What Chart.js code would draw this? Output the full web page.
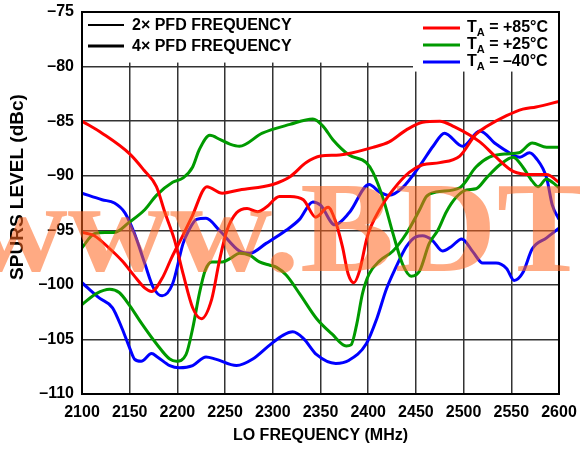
<!DOCTYPE html>
<html>
<head>
<meta charset="utf-8">
<script src="https://cdn.jsdelivr.net/npm/chart.js@4.4.1/dist/chart.umd.min.js"></script>
<style>
  html, body { margin: 0; padding: 0; background: #fff; }
  #wrap { width: 580px; height: 449px; }
</style>
</head>
<body>
<div id="wrap"><canvas id="chart" width="580" height="449"></canvas></div>
<script>
// --- Data (LO frequency in MHz, spur level in dBc) ---
const freqRedA = [2100,2121,2150,2165,2178,2187,2197,2206,2216,2225,2236,2244,2252,2262,2273,2284,2293,2307,2318,2332,2345,2358,2365,2373,2379,2385,2391,2399,2412,2426,2443,2457,2475,2496,2513,2524,2545,2562,2576,2600];
const spurRedA = [-85.0,-86.1,-88.0,-89.5,-91.0,-93.4,-95.9,-99.0,-102.1,-103.1,-101.3,-97.8,-95.0,-93.4,-93.0,-93.3,-92.9,-91.9,-91.9,-92.2,-93.8,-92.9,-94.0,-96.5,-99.0,-99.8,-98.7,-95.6,-93.1,-91.3,-89.7,-89.0,-88.8,-88.2,-86.2,-85.5,-84.5,-83.9,-83.7,-83.2];

const freqRedB = [2100,2113,2128,2142,2155,2166,2173,2184,2194,2205,2215,2231,2247,2265,2300,2318,2335,2350,2370,2405,2422,2440,2457,2475,2490,2517,2534,2552,2572,2587,2600];
const spurRedB = [-95.2,-95.5,-96.6,-97.8,-99.2,-100.3,-100.6,-99.4,-97.5,-95.6,-93.8,-91.0,-91.6,-91.3,-90.8,-90.1,-88.8,-88.2,-88.1,-87.4,-86.9,-85.8,-85.1,-85.0,-85.5,-86.9,-88.3,-89.6,-89.9,-89.9,-90.6];

const freqGreenA = [2100,2113,2124,2134,2149,2166,2178,2195,2206,2216,2223,2234,2245,2255,2265,2289,2318,2342,2353,2363,2380,2398,2405,2416,2426,2436,2445,2454,2464,2473,2482,2492,2503,2513,2524,2538,2552,2562,2572,2578,2587,2593,2600];
const spurGreenA = [-96.6,-95.3,-95.2,-95.2,-94.3,-93.1,-91.8,-90.6,-90.2,-89.2,-87.6,-86.3,-86.7,-87.1,-87.3,-86.1,-85.3,-84.8,-85.5,-86.7,-88.1,-88.8,-89.7,-92.2,-95.3,-98.1,-99.2,-98.7,-96.2,-95.0,-93.3,-92.0,-91.3,-91.2,-90.2,-89.0,-88.3,-89.2,-90.5,-91.0,-90.3,-90.6,-91.1];

const freqGreenB = [2100,2115,2129,2139,2150,2163,2178,2192,2199,2209,2216,2223,2229,2236,2247,2257,2265,2276,2286,2297,2304,2314,2328,2346,2362,2377,2382,2388,2394,2401,2412,2426,2440,2454,2461,2471,2496,2513,2527,2545,2558,2572,2587,2600];
const spurGreenB = [-101.8,-100.8,-100.4,-100.7,-101.9,-103.6,-105.4,-106.8,-107.0,-106.4,-104.0,-100.8,-98.7,-97.9,-97.9,-97.5,-97.1,-97.3,-97.9,-98.2,-98.4,-99.1,-100.8,-103.1,-104.5,-105.6,-105.5,-103.6,-100.8,-99.0,-97.8,-96.9,-95.3,-93.1,-91.9,-91.5,-91.1,-89.2,-88.3,-88.0,-87.9,-87.0,-87.4,-87.4];

const freqBlueA = [2100,2121,2134,2145,2155,2166,2175,2184,2195,2206,2212,2220,2230,2244,2265,2276,2293,2314,2328,2342,2350,2365,2380,2401,2412,2422,2436,2454,2468,2480,2499,2517,2534,2548,2559,2569,2576,2587,2593,2600];
const spurBlueA = [-91.6,-92.2,-92.5,-93.4,-95.3,-98.1,-100.3,-101.0,-99.9,-96.2,-95.0,-94.0,-93.9,-95.0,-96.9,-97.1,-96.2,-95.0,-94.0,-92.4,-92.7,-94.5,-93.4,-90.8,-91.5,-91.8,-91.1,-89.1,-87.3,-86.1,-87.3,-85.9,-87.1,-87.9,-88.3,-87.9,-88.4,-90.2,-92.7,-94.0];

const freqBlueB = [2100,2118,2132,2142,2150,2155,2162,2173,2179,2192,2202,2216,2230,2240,2262,2279,2297,2311,2321,2332,2346,2366,2380,2398,2409,2419,2429,2440,2450,2457,2467,2478,2487,2498,2510,2520,2534,2545,2553,2562,2572,2587,2600];
const spurBlueB = [-99.8,-101.2,-102.1,-104.0,-105.8,-106.8,-107.0,-106.3,-106.6,-107.4,-107.6,-107.4,-106.6,-106.8,-107.4,-106.8,-105.5,-104.6,-104.3,-104.9,-106.4,-107.2,-106.9,-105.4,-103.1,-100.4,-98.4,-96.5,-95.6,-95.5,-95.9,-96.9,-96.5,-95.8,-97.0,-98.0,-98.0,-98.5,-99.6,-98.9,-96.7,-95.7,-94.8];

const pfdLabels = ['2\u00d7 PFD FREQUENCY', '4\u00d7 PFD FREQUENCY'];
const tempLabels = ['+85\u00b0C', '+25\u00b0C', '\u201340\u00b0C'];
const tempColors = ['#ff0000', '#009a00', '#0000ff'];

// --- Helpers ---
const FONT = "'Liberation Sans', Arial, Helvetica, sans-serif";
const toPoints = (xs, ys) => xs.map((x, i) => ({ x, y: ys[i] }));
const series = (xs, ys, color) => ({
  data: toPoints(xs, ys),
  borderColor: color,
  borderWidth: 3,
  pointRadius: 0,
  fill: false,
  cubicInterpolationMode: 'monotone'
});
const dashNum = v => (v < 0 ? '\u2013' + Math.abs(v) : String(v));

// legend boxes, frame, titles and the watermark
const overlay = {
  id: 'overlay',
  afterDraw(chart) {
    const { ctx, chartArea: a, scales: { y } } = chart;
    const y80 = y.getPixelForValue(-80);
    ctx.save();

    // white legend areas cover the grid in the top band
    ctx.fillStyle = '#fff';
    ctx.fillRect(a.left + 1, a.top + 1, a.right - a.left - 2, y80 - 5 - a.top);
    ctx.fillRect(413, a.top + 1, a.right - 414, y80 + 4 - a.top);

    // frame
    ctx.strokeStyle = '#000';
    ctx.lineWidth = 2;
    ctx.strokeRect(a.left, a.top, a.right - a.left, a.bottom - a.top);

    // left legend
    ctx.fillStyle = '#000';
    ctx.textBaseline = 'middle';
    ctx.textAlign = 'left';
    ctx.font = 'bold 16px ' + FONT;
    pfdLabels.forEach((t, i) => {
      const ly = 25 + i * 21;
      ctx.lineWidth = i === 0 ? 2 : 3;
      ctx.beginPath(); ctx.moveTo(88, ly); ctx.lineTo(124, ly); ctx.stroke();
      ctx.fillText(t, 132, ly + 1);
    });

    // right legend
    tempLabels.forEach((t, i) => {
      const ly = 28 + i * 17;
      ctx.strokeStyle = tempColors[i];
      ctx.lineWidth = 3;
      ctx.beginPath(); ctx.moveTo(423, ly); ctx.lineTo(460, ly); ctx.stroke();
      ctx.fillStyle = '#000';
      ctx.font = 'bold 16px ' + FONT;
      ctx.fillText('T', 467, ly);
      let tx = 467 + ctx.measureText('T').width;
      ctx.font = 'bold 11px ' + FONT;
      ctx.fillText('A', tx, ly + 5);
      tx += ctx.measureText('A').width;
      ctx.font = 'bold 16px ' + FONT;
      ctx.fillText(' = ' + t, tx, ly);
    });

    // axis titles
    ctx.textAlign = 'center';
    ctx.font = 'bold 16px ' + FONT;
    ctx.fillText('LO FREQUENCY (MHz)', (a.left + a.right) / 2, 436);
    ctx.save();
    ctx.translate(18, 187);
    ctx.rotate(-Math.PI / 2);
    ctx.font = 'bold 19px ' + FONT;
    ctx.fillText('SPURS LEVEL (dBc)', 0, 0);
    ctx.restore();

    // watermark, slightly wide
    ctx.save();
    ctx.font = "bold 130px 'Liberation Serif', 'Times New Roman', serif";
    ctx.textAlign = 'left';
    ctx.textBaseline = 'alphabetic';
    ctx.fillStyle = 'rgba(255, 100, 30, 0.55)';
    ctx.translate(300, 271);
    ctx.scale(1.09, 1);
    ctx.fillText('www.BDT', -ctx.measureText('www.').width, 0);
    ctx.restore();

    ctx.restore();
  }
};

new Chart(document.getElementById('chart'), {
  type: 'line',
  data: {
    datasets: [
      series(freqRedA, spurRedA, tempColors[0]),
      series(freqRedB, spurRedB, tempColors[0]),
      series(freqGreenA, spurGreenA, tempColors[1]),
      series(freqGreenB, spurGreenB, tempColors[1]),
      series(freqBlueA, spurBlueA, tempColors[2]),
      series(freqBlueB, spurBlueB, tempColors[2])
    ]
  },
  options: {
    responsive: false,
    animation: false,
    devicePixelRatio: 1,
    layout: { padding: { top: 12, right: 21, left: 0, bottom: 0 } },
    plugins: { legend: { display: false }, tooltip: { enabled: false } },
    scales: {
      x: {
        type: 'linear', min: 2100, max: 2600,
        afterFit: s => { s.height = 55; s.paddingLeft = 0; s.paddingRight = 0; },
        ticks: { stepSize: 50, padding: 9, color: '#000', callback: v => String(v), font: { family: FONT, size: 16, weight: 'bold' } },
        grid: { color: '#333', lineWidth: 1.5, drawTicks: false },
        border: { color: '#000', width: 2 }
      },
      y: {
        min: -110, max: -75,
        afterFit: s => { s.width = 82; s.paddingTop = 0; s.paddingBottom = 0; },
        ticks: { stepSize: 5, padding: 8, color: '#000', callback: v => dashNum(v), font: { family: FONT, size: 16, weight: 'bold' } },
        grid: { color: '#333', lineWidth: 1.5, drawTicks: false },
        border: { color: '#000', width: 2 }
      }
    }
  },
  plugins: [overlay]
});
</script>
</body>
</html>
